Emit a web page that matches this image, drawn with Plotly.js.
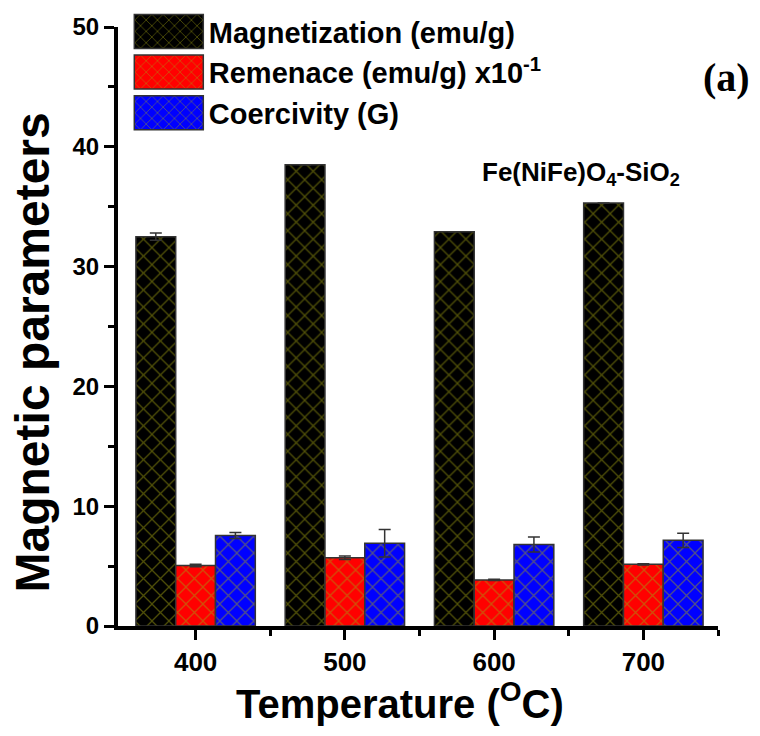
<!DOCTYPE html>
<html>
<head>
<meta charset="utf-8">
<script src="https://cdn.plot.ly/plotly-3.0.1.min.js"></script>
<style>html,body{margin:0;padding:0;background:#fff;}#chart{width:760px;height:736px;}</style>
</head>
<body>
<div id="chart"></div>
<script>
// ---- data ----
const temperatures = [400, 500, 600, 700];
const magnetization = [32.5, 38.5, 32.9, 35.3];
const magnetizationErr = [0.3, 0, 0, 0];
const remanence = [5.05, 5.7, 3.85, 5.15];
const remanenceErr = [0.1, 0.15, 0.05, 0.05];
const coercivity = [7.55, 6.9, 6.8, 7.15];
const coercivityErr = [0.25, 1.15, 0.62, 0.6];
const seriesNames = ['Magnetization (emu/g)', 'Remenace (emu/g) x10<sup>-1</sup>', 'Coercivity (G)'];
const seriesColors = ['#000000', '#ff0000', '#0000ff'];
const xTickVals = [400, 500, 600, 700];
const xMinorVals = [450, 550, 650, 750];
const xTitle = 'Temperature (<sup>O</sup>C)';
const yTitle = 'Magnetic parameters';

const font = 'Liberation Sans, Arial, sans-serif';
const hatch = c => ({shape: 'x', fgcolor: '#a0a010', bgcolor: c, size: 12, solidity: 0.2, fillmode: 'overlay'});

function barTrace(vals, errs, name, color) {
  return {
    type: 'bar', x: temperatures, y: vals, name: name,
    marker: {color: color, line: {color: '#333333', width: 1.5}, pattern: hatch(color)},
    error_y: {type: 'data', array: errs, visible: true, color: '#333333', thickness: 1.5, width: 6}
  };
}

const data = [
  barTrace(magnetization, magnetizationErr, seriesNames[0], seriesColors[0]),
  barTrace(remanence, remanenceErr, seriesNames[1], seriesColors[1]),
  barTrace(coercivity, coercivityErr, seriesNames[2], seriesColors[2])
];

const layout = {
  width: 760, height: 736,
  margin: {l: 118, r: 42, t: 27, b: 110, autoexpand: false},
  paper_bgcolor: '#ffffff', plot_bgcolor: '#ffffff',
  barmode: 'group', bargap: 0.2, bargroupgap: 0,
  font: {family: font, color: '#000', size: 24},
  showlegend: true,
  legend: {
    x: 0.018, y: 1.035, xanchor: 'left', yanchor: 'top',
    bgcolor: 'rgba(0,0,0,0)', borderwidth: 0,
    itemwidth: 70, itemclick: false,
    font: {family: font, size: 29, color: '#000', weight: 'bold'}
  },
  xaxis: {
    automargin: false,
    range: [348, 750], tickvals: xTickVals, ticktext: xTickVals.map(String),
    showgrid: false, zeroline: false,
    showline: true, linewidth: 4, linecolor: '#000',
    ticks: 'outside', ticklen: 10, tickwidth: 3, tickcolor: '#000',
    tickfont: {family: font, size: 26, color: '#000', weight: 'bold'},
    minor: {tickvals: xMinorVals, ticks: 'outside', ticklen: 6, tickwidth: 3, tickcolor: '#000', showgrid: false}
  },
  yaxis: {
    automargin: false,
    range: [0, 50], dtick: 10, tick0: 0,
    showgrid: false, zeroline: false,
    showline: true, linewidth: 4, linecolor: '#000',
    ticks: 'outside', ticklen: 10, tickwidth: 3, tickcolor: '#000',
    tickfont: {family: font, size: 24, color: '#000', weight: 'bold'},
    minor: {dtick: 5, ticks: 'outside', ticklen: 6, tickwidth: 3, tickcolor: '#000', showgrid: false}
  },
  annotations: [
    {xref: 'paper', yref: 'paper', x: 0.47, y: -0.125, xanchor: 'center', yanchor: 'middle',
     text: xTitle, showarrow: false,
     font: {family: font, size: 40, color: '#000', weight: 'bold'}},
    {xref: 'paper', yref: 'paper', x: -0.143, y: 0.457, xanchor: 'center', yanchor: 'middle',
     text: yTitle, textangle: -90, showarrow: false,
     font: {family: font, size: 48, color: '#000', weight: 'bold'}},
    {xref: 'paper', yref: 'paper', x: 0.772, y: 0.755, xanchor: 'center', yanchor: 'middle',
     text: 'Fe(NiFe)O<sub>4</sub>-SiO<sub>2</sub>', showarrow: false,
     font: {family: font, size: 26, color: '#000', weight: 'bold'}},
    {xref: 'paper', yref: 'paper', x: 1.057, y: 0.916, xanchor: 'right', yanchor: 'middle',
     text: '(a)', showarrow: false,
     font: {family: 'Liberation Serif, Times New Roman, serif', size: 40, color: '#000', weight: 'bold'}}
  ]
};

Plotly.newPlot('chart', data, layout, {displayModeBar: false, staticPlot: true}).then(function (gd) {
  try {
    document.querySelectorAll('#chart .legend .legendpoints path').forEach(function (p) {
      p.setAttribute('d', 'M34.5,17H-34.5V-17H34.5Z');
    });
  } catch (e) {}
});
</script>
</body>
</html>
